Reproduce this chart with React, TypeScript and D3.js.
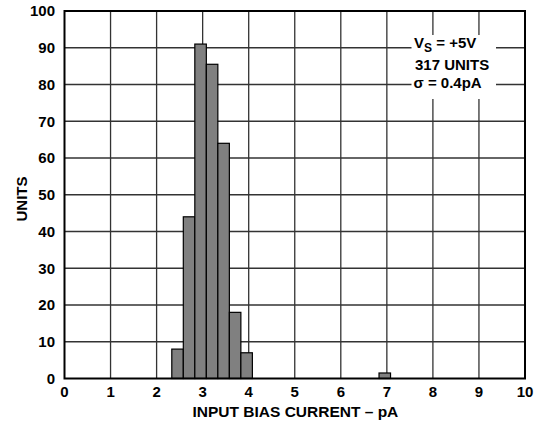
import * as d3 from "d3";

// histogram bins (left edge, pA) and counts
const binStarts = [2.33, 2.58, 2.83, 3.08, 3.33, 3.58, 3.83, 6.83];
const counts = [8, 44, 91, 85.5, 64, 18, 7, 1.5];
const binWidth = 0.25;

const xTicks = [0, 1, 2, 3, 4, 5, 6, 7, 8, 9, 10];
const yTicks = [0, 10, 20, 30, 40, 50, 60, 70, 80, 90, 100];

const W = 539;
const H = 426;
const m = { left: 64.5, right: 525, top: 11, bottom: 378.5 };
const font = "'Liberation Sans', Arial, sans-serif";

export default function App() {
  const x = d3.scaleLinear().domain([0, 10]).range([m.left, m.right]);
  const y = d3.scaleLinear().domain([0, 100]).range([m.bottom, m.top]);

  const bars = binStarts.map((b, i) => ({ x0: b, x1: b + binWidth, v: counts[i] }));

  return (
    <svg
      width={W}
      height={H}
      style={{ position: "absolute", left: 0, top: 0, background: "#fff" }}
      fontFamily={font}
      fontWeight="bold"
    >
      {/* grid */}
      <g stroke="#333" strokeWidth={1.3}>
        {xTicks.slice(1, -1).map((t) => (
          <line key={"gx" + t} x1={x(t)} x2={x(t)} y1={m.top} y2={m.bottom} />
        ))}
        {yTicks.slice(1, -1).map((t) => (
          <line key={"gy" + t} x1={m.left} x2={m.right} y1={y(t)} y2={y(t)} />
        ))}
      </g>

      {/* legend box blanks out the grid */}
      <rect x={411.5} y={35} width={84.5} height={64} fill="#fff" />
      <g fontSize={15} fill="#000">
        <text x={414} y={47.7}>
          V<tspan fontSize={12} dy={4}>S</tspan>
          <tspan dy={-4}> = +5V</tspan>
        </text>
        <text x={415} y={69.5}>317 UNITS</text>
        <text x={413.5} y={88.3}>σ = 0.4pA</text>
      </g>

      {/* bars */}
      <g fill="#808080" stroke="#000" strokeWidth={1.2}>
        {bars.map((d, i) => (
          <rect
            key={i}
            x={x(d.x0)}
            y={y(d.v)}
            width={x(d.x1) - x(d.x0)}
            height={y(0) - y(d.v)}
          />
        ))}
      </g>

      {/* frame */}
      <rect
        x={m.left}
        y={m.top}
        width={m.right - m.left}
        height={m.bottom - m.top}
        fill="none"
        stroke="#000"
        strokeWidth={2}
      />

      {/* tick labels */}
      <g fontSize={15} fill="#000">
        {xTicks.map((t) => (
          <text key={"tx" + t} x={x(t)} y={396.7} textAnchor="middle">
            {t}
          </text>
        ))}
        {yTicks.map((t) => (
          <text key={"ty" + t} x={55} y={y(t)} dy="0.36em" textAnchor="end">
            {t}
          </text>
        ))}
      </g>

      {/* axis titles */}
      <text x={295.4} y={416.5} fontSize={15.5} textAnchor="middle">
        INPUT BIAS CURRENT – pA
      </text>
      <text
        transform={`translate(26.7,${199}) rotate(-90)`}
        fontSize={15}
        textAnchor="middle"
      >
        UNITS
      </text>
    </svg>
  );
}
